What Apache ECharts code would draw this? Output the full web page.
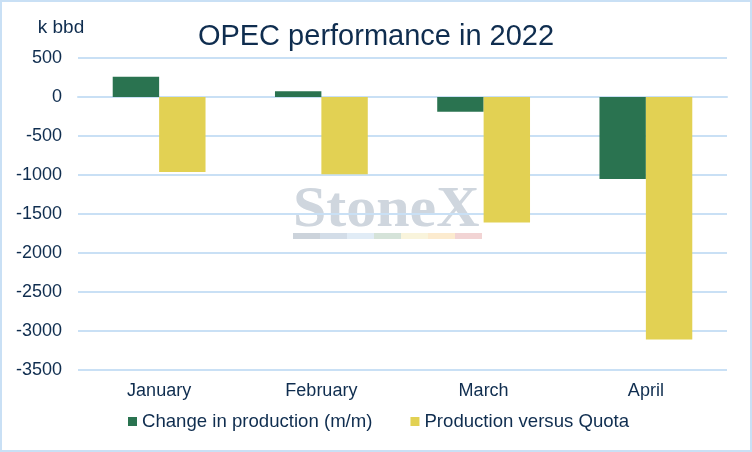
<!DOCTYPE html>
<html>
<head>
    <meta charset="utf-8">
    <script src="https://cdn.jsdelivr.net/npm/echarts@6/dist/echarts.min.js"></script>
    <style>
    html, body { margin: 0; padding: 0; background: #fff; }
    #main {
      width: 748px;
      height: 448px;
      border: 2px solid #c9e0f5;
    }
    </style>
    <title>OPEC performance in 2022</title>
</head>
<body>
    <div id="main"></div>
    <script type="text/javascript">

        var months = ['January', 'February', 'March', 'April'];
        var changeMoM = [260, 75, -190, -1050];
        var vsQuota = [-960, -990, -1610, -3110];
        var stripColors = ['#ccd3db', '#d3dde8', '#e1ecf6', '#d5e3d9', '#f9f4dc', '#fcebcf', '#f2d4d4'];

        var textColor = '#0f2d4f';
        var font = 'Liberation Sans';
        var myChart = echarts.init(document.getElementById('main'));

        // watermark colour strip
        var strip = stripColors.map(function (c, i) {
            return {
                type: 'rect',
                left: 291 + i * 27, top: 231,
                shape: { width: 27, height: 6 },
                style: { fill: c },
                z: 0
            };
        });

        option = {
            backgroundColor: '#fff',
            title: {
                text: 'OPEC performance in 2022',
                left: 'center',
                top: 15,
                textStyle: { color: textColor, fontSize: 29, fontWeight: 'normal', fontFamily: font }
            },
            graphic: [{
                type: 'text',
                x: 291, y: 182,
                scaleX: 1.07,
                style: { text: 'StoneX', fill: '#cfd6de', font: 'bold 56px "Liberation Serif"' },
                z: 0
            }].concat(strip),
            legend: {
                left: 121,
                bottom: 14,
                itemWidth: 9,
                itemHeight: 9,
                itemGap: 38,
                icon: 'rect',
                textStyle: { color: textColor, fontSize: 18.6, fontFamily: font },
                data: ['Change in production (m/m)', 'Production versus Quota']
            },
            grid: { left: 76, right: 23, top: 56, bottom: 80 },
            xAxis: [{
                type: 'category',
                data: months,
                position: 'bottom',
                axisLine: { show: false, onZero: false },
                axisTick: { show: false },
                axisLabel: { color: textColor, fontSize: 18, fontFamily: font, margin: 12 }
            }, {
                type: 'category',
                data: months,
                position: 'top',
                axisLine: { onZero: true, lineStyle: { color: '#c9e0f5', width: 2 } },
                axisTick: { inside: true, length: 6, lineStyle: { color: '#c9e0f5', width: 2 } },
                axisLabel: { show: false }
            }],
            yAxis: {
                type: 'value',
                name: 'k bbd',
                nameLocation: 'end',
                nameGap: 21,
                nameTextStyle: { color: textColor, fontSize: 19, fontFamily: font, align: 'center', padding: [0, 0, 0, -34] },
                min: -3500,
                max: 500,
                interval: 500,
                axisLine: { show: false },
                axisTick: { show: false },
                axisLabel: { color: textColor, fontSize: 18, fontFamily: font, margin: 16, formatter: function (v) { return String(v); } },
                splitLine: { lineStyle: { color: '#c9e0f5', width: 2 } }
            },
            series: [
                {
                    name: 'Change in production (m/m)',
                    type: 'bar',
                    barWidth: '28.6%',
                    barGap: '0%',
                    itemStyle: { color: '#2a7350' },
                    data: changeMoM
                },
                {
                    name: 'Production versus Quota',
                    type: 'bar',
                    barWidth: '28.6%',
                    barGap: '0%',
                    itemStyle: { color: '#e2d153' },
                    data: vsQuota
                }
            ]
        };
        myChart.setOption(option);

    </script>
</body>
</html>
